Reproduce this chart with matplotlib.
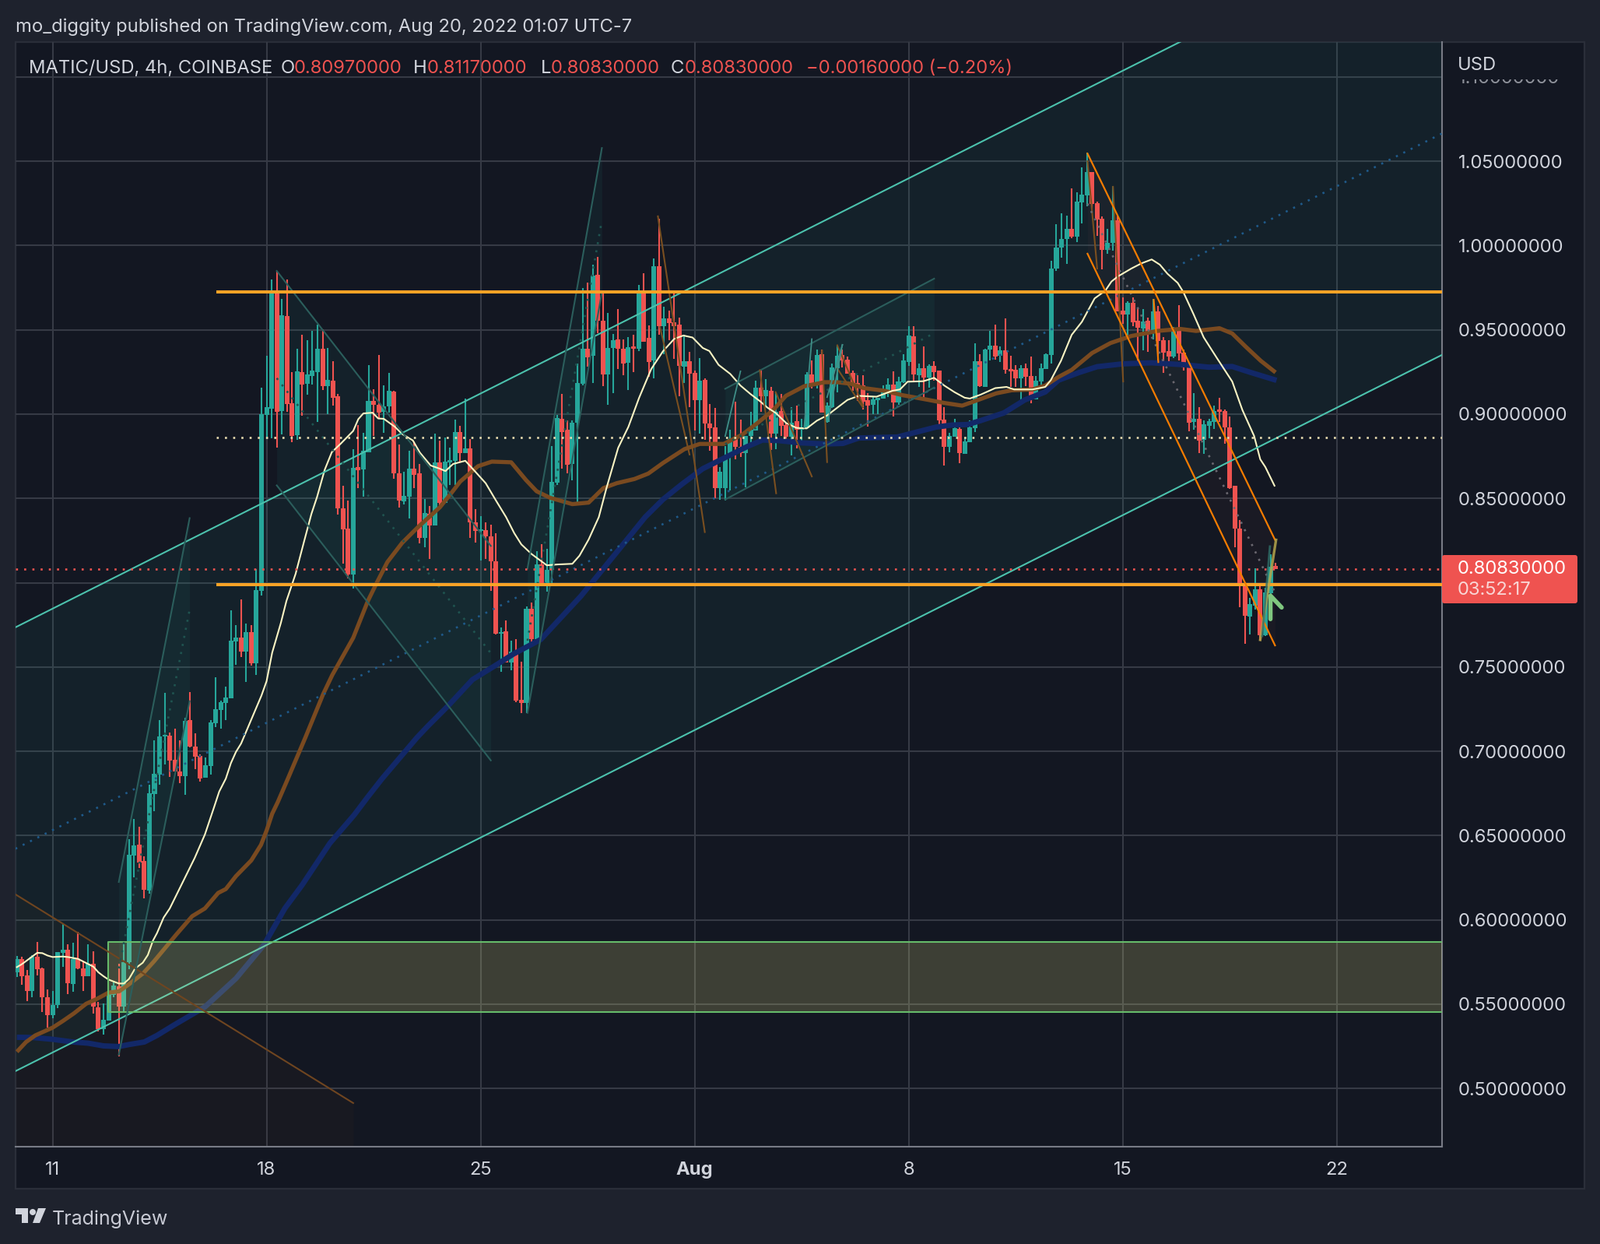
import numpy as np
import matplotlib
matplotlib.use('Agg')
import matplotlib.pyplot as plt
from matplotlib.patches import Rectangle, Polygon, FancyBboxPatch, Circle
from matplotlib.transforms import Bbox

W, H = 2056, 1598
BG = '#1e222d'
PANE = '#131722'
GRID = '#363a45'
TXT = '#d1d4dc'
UP = '#26a69a'
DOWN = '#ef5350'
plt.rcParams['font.family'] = 'Inter'

# 4h candles
opens = [.569,.5767,.567,.5578,.578,.5712,.554,.5435,.5495,.5805,
.5823,.562,.5767,.5712,.5666,.574,.548,.535,.5403,.5555,
.5606,.5486,.5749,.6381,.6445,.6348,.6173,.6746,.6861,.7087,
.7092,.6949,.688,.6852,.7184,.7027,.6972,.6843,.6912,.7166,
.7245,.7286,.7314,.7651,.7674,.7591,.7707,.7522,.795,.8994,
.9031,.9729,.9017,.9581,.9064,.8874,.9248,.9179,.9225,.9248,
.9387,.9165,.9198,.9105,.844,.832,.8047,.8685,.8671,.8773,
.9078,.9054,.9014,.9048,.9134,.8647,.8481,.8508,.8676,.8647,
.8265,.8408,.8341,.8714,.8471,.8712,.8723,.8895,.8767,.8796,
.836,.8305,.8313,.8275,.8128,.7697,.7711,.7526,.7591,.7306,
.7285,.7845,.7667,.8108,.7979,.8074,.8595,.8972,.8905,.8704,
.8947,.9178,.9388,.9344,.9826,.9554,.9233,.9392,.9444,.9388,
.9306,.9402,.9388,.9726,.9453,.9316,.9879,.9522,.9568,.9546,
.9531,.9282,.9315,.9243,.9081,.9203,.8946,.892,.8561,.8561,
.8746,.8854,.8807,.8769,.8869,.8904,.9158,.9108,.9139,.8884,
.902,.8934,.8865,.8957,.8908,.8916,.9234,.9182,.9354,.8952,
.9041,.9274,.935,.9323,.9243,.9177,.9172,.9082,.9054,.9082,
.9091,.9122,.9174,.9067,.919,.9308,.946,.9231,.9272,.9215,
.9285,.9257,.8966,.8807,.8865,.8911,.8765,.8835,.8916,.9313,
.9162,.9382,.9408,.9344,.9378,.9267,.9262,.9211,.927,.9227,
.9085,.9193,.9267,.935,.9863,.9986,1.0037,1.0099,1.0052,1.0255,
1.0299,1.0436,1.0251,1.0159,.9975,1.0014,1.0149,.9613,.959,.966,
.9552,.9509,.9552,.9483,.9609,.9436,.9373,.9339,.9493,.9362,
.9281,.8955,.897,.8847,.8932,.8955,.9024,.9017,.8921,.8573,
.8319,.7993,.78,.7866,.7962,.7689,.7939,.8097]

highs = [.5785,.578,.5703,.579,.5869,.5717,.5587,.558,.581,.598,
.5855,.5865,.593,.5754,.5855,.5814,.5513,.5504,.5564,.5638,
.574,.5874,.6478,.6598,.6552,.6376,.6801,.7064,.7184,.7346,
.711,.7134,.7064,.7198,.735,.7106,.6981,.6963,.7184,.7439,
.73,.7383,.7835,.7748,.79,.7757,.7748,.808,.9156,.9345,
.9798,.9849,.9683,.9798,.9248,.9387,.947,.9438,.9493,.953,
.9503,.9392,.9313,.9119,.8574,.8486,.8791,.8934,.8888,.929,
.9147,.935,.9172,.9245,.9138,.8819,.8657,.8781,.8838,.8702,
.8494,.8456,.8886,.8842,.8863,.88,.8966,.8928,.909,.8851,
.8437,.8395,.836,.8345,.8294,.7736,.7778,.7654,.7663,.753,
.7858,.7883,.8189,.8227,.8202,.881,.8997,.9119,.8962,.8962,
.93,.9749,.978,.9885,.9932,.973,.9598,.9474,.9621,.9444,
.9455,.9472,.9764,.9837,.9526,.9925,1.016,.9635,.9612,.9731,
.957,.9469,.937,.9258,.9331,.9211,.9058,.9038,.8684,.8808,
.8905,.9072,.8969,.8872,.9015,.92,.9262,.9208,.9159,.9131,
.9118,.8949,.9039,.9049,.8973,.9247,.9319,.9382,.9382,.9069,
.93,.9408,.9382,.9343,.9258,.9231,.9231,.9123,.9108,.9096,
.9169,.9212,.9254,.9221,.9354,.9519,.9519,.93,.94,.9293,
.9313,.9257,.904,.8888,.8974,.8923,.8862,.8962,.9419,.9354,
.9388,.9493,.9531,.9401,.9567,.9344,.929,.929,.9298,.9339,
.9228,.9298,.9359,.991,1.0125,1.0191,1.0176,1.034,1.0317,1.0463,
1.0551,1.0436,1.026,1.0171,1.0099,1.0351,1.0176,.9693,.9667,.9693,
.9632,.9621,.957,.9681,.964,.9455,.9439,.9516,.9647,.9385,
.9281,.9125,.904,.8963,.897,.905,.9097,.9029,.8986,.8573,
.8373,.7993,.7908,.8085,.7993,.797,.8167,.8117]

lows = [.566,.5615,.552,.554,.567,.5453,.536,.5416,.5477,.5721,
.556,.5574,.5708,.558,.5666,.5444,.5338,.532,.5403,.554,
.519,.5453,.5708,.6251,.6307,.6127,.6154,.6644,.68,.6921,
.6847,.688,.681,.6741,.7023,.6893,.682,.6843,.6861,.7143,
.7134,.7184,.7314,.7513,.7559,.7411,.7508,.7452,.7923,.8851,
.8856,.88,.8879,.9013,.8833,.8846,.899,.9115,.9175,.8953,
.9142,.9,.905,.8403,.8112,.8024,.7964,.856,.8509,.8773,
.887,.8971,.889,.901,.8618,.8447,.8466,.838,.8561,.8231,
.8208,.8141,.8341,.8447,.8471,.858,.858,.872,.8767,.8265,
.8236,.8131,.8141,.795,.7692,.7472,.7526,.7482,.7291,.7228,
.7228,.7625,.766,.7979,.7946,.7992,.858,.8676,.8647,.8609,
.8475,.9172,.9283,.9182,.9478,.9168,.9054,.9125,.9268,.923,
.9144,.9249,.9373,.943,.922,.921,.947,.9354,.944,.9326,
.9104,.9185,.904,.8904,.8884,.8846,.8781,.8499,.8492,.8487,
.8546,.873,.8746,.8566,.883,.8904,.9015,.9039,.8789,.8792,
.887,.8823,.8754,.8795,.882,.8916,.9152,.9152,.9008,.8951,
.9038,.9131,.9277,.9239,.9138,.9077,.9026,.8926,.9,.9,
.9091,.9101,.8984,.9055,.9185,.9285,.9193,.9162,.9097,.9157,
.92,.893,.8695,.8772,.8865,.8707,.8765,.8835,.8893,.9162,
.9162,.9316,.9321,.9308,.9239,.9162,.9162,.9065,.9165,.9065,
.9085,.9154,.9267,.93,.9847,.9929,.989,1.0045,1.0022,1.0132,
1.0233,1.0214,1.0055,.986,.9952,.997,.9609,.9536,.9444,.9521,
.9313,.9378,.937,.9444,.9308,.9244,.9301,.9332,.9316,.9258,
.8898,.8909,.877,.8763,.8855,.8914,.8955,.8824,.8555,.8208,
.7854,.7638,.7692,.7839,.7654,.7682,.79,.8083]

closes = [.577,.5666,.5578,.578,.5708,.554,.5435,.5495,.581,.5823,
.5624,.5767,.5712,.5666,.574,.5486,.535,.5407,.556,.561,
.5486,.5749,.6385,.6441,.6339,.6177,.675,.6866,.7087,.7097,
.6944,.688,.6852,.718,.7027,.6967,.6838,.6917,.717,.7249,
.729,.7318,.7656,.7674,.7591,.7707,.7522,.7955,.8999,.9041,
.9734,.9013,.9586,.9059,.887,.9253,.9175,.9235,.9258,.9387,
.9165,.9202,.9096,.844,.8315,.8047,.868,.8666,.8782,.9078,
.9054,.9008,.9046,.9138,.8647,.8485,.8513,.8676,.8641,.8265,
.8412,.8341,.8714,.8475,.8718,.8725,.8895,.8771,.8796,.836,
.8309,.8313,.8275,.8128,.7696,.7707,.7526,.7591,.73,.7285,
.7845,.7667,.8108,.7979,.8074,.8599,.8977,.8892,.87,.8949,
.9186,.9388,.9337,.9822,.9554,.9233,.9392,.9436,.9388,.93,
.9398,.9388,.9722,.943,.931,.9879,.9522,.9568,.9541,.9523,
.9285,.9315,.9238,.9081,.9197,.8946,.8915,.8561,.8656,.8749,
.8851,.8804,.8769,.8872,.8907,.9158,.9108,.9142,.8884,.9015,
.8931,.8865,.8951,.8908,.8919,.9234,.9182,.935,.9008,.9049,
.9277,.9344,.932,.9239,.9174,.9172,.9072,.9051,.9085,.9096,
.9127,.9174,.907,.9193,.9316,.9465,.9234,.9272,.9215,.9285,
.925,.8962,.8807,.8869,.8916,.8769,.8839,.892,.9313,.9165,
.9382,.9405,.9342,.9378,.9262,.9255,.9211,.927,.9223,.9085,
.9196,.927,.9354,.9863,.9986,1.0037,1.0099,1.0052,1.026,1.0302,
1.0436,1.0248,1.0155,.9975,1.0014,1.0149,.9609,.959,.966,.9544,
.9512,.9547,.9483,.9609,.9432,.9362,.9339,.9493,.9359,.9278,
.895,.897,.8843,.894,.8958,.902,.9015,.892,.8562,.8319,
.7985,.7805,.7872,.7962,.7689,.7942,.8093,.8083]

# moving averages, bar number and price
fast_x = [0,1,4,5,6,7,9,10,12,14,15,16,17,18,20,21,22,23.2,24.7,25.7,26.7,27.5,28.8,30,32.9,34.9,36.9,
38.7,39.7,41,42,43,44,46.6,48,49,50.1,51.8,52.9,54.7,56.3,57.8,58.9,60.4,61.8,63.5,66,67,68,69.8,70.9,
72,74.2,75.6,77.7,79.1,81.2,83,84.1,85.6,88,90,92,94,96,97.6,99,101,104,106,109,110.4,112.2,114.2,115.7,
118,120,122.1,124.5,126.8,129,130.8,132.6,134.6,135.9,137.7,140,142,144,145.8,147.3,148.9,151,153,155,157,
159,161,163,165.2,168.7,171.8,173.3,174.8,177.9,180,182,184,186,187,189.1,192,194.2,195.7,199.3,201.8,202.9,
204.9,207,209,211.5,213.6,214.8,216.1,218.7,220.7,222.7,224.3,225.8,227.8,228.9,230.9,232.9,235.5,238.5,240.5,
242.8,244,245,246.8]
fast_y = [.572,.5738,.5805,.5803,.5789,.578,.5783,.578,.5769,.5738,.5723,.5689,.5666,.5646,.5623,.5623,.565,.5712,.5746,.5792,.5877,.5922,.6014,.6068,.6245,.6368,.6507,
.6669,.6761,.6838,.693,.6997,.7046,.7231,.7331,.7416,.7585,.7761,.7892,.8053,.8238,.8408,.8508,.8669,.8774,.8823,.89,.897,.9004,.9008,.8974,
.8972,.8924,.8882,.8844,.8771,.8695,.8676,.8662,.8704,.8723,.8657,.859,.8488,.8389,.8294,.8227,.817,.8103,.8108,.8112,.816,.8256,.8389,.8561,
.88,.8924,.9096,.9268,.9373,.9446,.9466,.9454,.9392,.9374,.9292,.9238,.9169,.9118,.9077,.9038,.9007,.8946,.8918,.8915,.8961,
.8992,.9038,.9084,.9108,.9103,.9138,.9146,.9192,.9195,.9215,.9169,.913,.9097,.9092,.9115,.9154,.9161,.9146,.9146,.9161,.9201,
.9316,.947,.9547,.9686,.9732,.9786,.9817,.9863,.9894,.9917,.9886,.9832,.9778,.9724,.9593,.9455,.9332,.9193,.9024,
.887,.8732,.8686,.8575]

mid_x = [0,1.8,3.6,7,9,11.2,13.6,15.6,18,20.1,22.2,24.8,26.9,31.3,34.4,36.9,39.5,41,43,46,47.9,49,50.1,51.2,53.2,56.6,
60.1,61.9,66,68.9,70.6,72.7,75.6,78.8,83,85.3,87,90.5,93.2,97,99.9,102,104.6,109,112.2,115.1,117.7,121.2,123.9,126.8,
131,134,138.7,142.3,145.3,148.4,150.9,154.5,158.5,161,163.6,166.2,170.3,173.8,178.9,182,185.5,188,192.2,195.2,199.3,201.8,204.4,
207,211,214.6,218.7,223.8,228.3,231.4,236,238.5,241.1,244.1,247]
mid_y = [.5218,.5276,.5315,.5361,.54,.5446,.5503,.553,.5569,.5577,.5623,.5684,.5754,.5914,.6022,.6068,.616,.6183,.626,.6353,.6445,.653,.663,.6699,.6839,.7081,
.7339,.7453,.7673,.7893,.7998,.8122,.8236,.8332,.8447,.8533,.86,.8691,.8718,.8714,.8609,.8542,.8504,.8466,.8475,.8561,.859,.8615,.8647,.871,
.8792,.8823,.8823,.8877,.8946,.9023,.9108,.9165,.9189,.9189,.918,.9154,.9138,.9112,.9084,.9066,.905,.9077,.9123,.9141,.9146,.9169,.922,
.9262,.9362,.9421,.9463,.9493,.9505,.9493,.9509,.9478,.9401,.9316,.9247]

slow_x = [0,3,7,11,14,17,20,22,25,27.5,30.8,36.9,43,48.5,52.6,56,61.4,66.2,68.9,71.7,78.5,80.6,84.7,89.4,94,97.5,102.8,106.9,110.7,
115.1,119.2,123.3,126.8,130.5,134.6,138.2,143.3,146.3,149.4,153.5,158.5,162.1,165.2,172.8,176.4,180.4,183.5,186.6,189.1,193.7,197.8,201.8,
204.4,208.5,212,217.1,222.7,228.9,233.9,238.5,242.1,247.2]
slow_y = [.5304,.5303,.5292,.5276,.5269,.5253,.5249,.5261,.5276,.5315,.5376,.5484,.5653,.5853,.6069,.6208,.6454,.6623,.6731,.6839,.7081,.7148,.7272,.7425,.7511,.7578,.7663,.7797,.7921,
.8084,.8236,.8389,.8494,.8584,.8676,.873,.8807,.8846,.8843,.883,.8823,.8826,.8858,.8864,.8892,.8923,.8935,.8938,.8961,.9007,.9084,.9131,
.9201,.9247,.9281,.9298,.9304,.9293,.9278,.9282,.9247,.92]

# levels and drawings, bar number and price
price_ticks = [.50,.55,.60,.65,.70,.75,.80,.85,.90,.95,1.00,1.05,1.10]
date_ticks = [7,49,91,133,175,217,259]
date_labels = ['11','18','25','Aug','8','15','22']
res_high, res_low, mid_level = .9726, .7988, .8859
level_start = 39.1
last_price = .8083
zone_start, zone_top, zone_bot = 17.9, .5869, .5453
chan_x = [-.3, 279.6]
chan_up = [.7735, 1.1987]
chan_mid = [.6422, 1.0663]
chan_dn = [.5103, .9350]
fall_x = [210.1, 246.9]
fall_up = [1.0545, .8254]
fall_mid = [1.0248, .7941]
fall_dn = [.9951, .7628]
wedge_x = [-.26, 66]
wedge_y = [.6151, .4914]
flag_up = [[20,33.9],[.6225,.8383],[.52,.7297]]
flag_down = [[51,93],[.9849,.8218],[.8577,.6946]]
flag_up2 = [[100.2,114.8],[.8084,1.0578],[.7228,.9722]]
flag_side = [[139,180],[.915,.9803],[.8493,.9157]]
brown_segs = [([125.8,135],[1.0173,.83]),([126.2,132],[.9516,.876]),([145.8,149],[.926,.853]),
              ([148.9,156],[.913,.863]),([161,166],[.9408,.9054]),([158,159],[.9377,.8715]),
              ([161,166],[.927,.904]),([210.1,212],[1.05,.9863]),([215.1,217.1],[1.0348,.9193])]
teal_segs = [([139,142],[.8869,.9254]),([159,162],[.91,.9411]),([159.2,162],[.8962,.9411]),([154.5,156],[.892,.9445])]

BAR_W = 6.548
X0 = 21.7
FS = 17.1
DOTS = (0, (1, 3))

def xd(p):
    return (p - X0) / BAR_W
def yd(p):
    return 1.05 - (p - 207) * 0.05 / 108.3

fig = plt.figure(figsize=(W/100, H/100), dpi=100, facecolor=BG)

# layer for the pane and the frame, in pixels
back = fig.add_axes([0, 0, 1, 1], zorder=0)
back.set_xlim(0, W)
back.set_ylim(H, 0)
back.axis('off')
back.add_patch(Rectangle((20, 54), 2016, 1473, fc=PANE, ec='#2a2e39', lw=1.6))

L, R, T, B = 20, 1853, 54, 1473
ax = fig.add_axes([L/W, 1-B/H, (R-L)/W, (B-T)/H], zorder=1)
ax.patch.set_alpha(0)
ax.set_xlim(xd(L), xd(R))
ax.set_ylim(yd(B), yd(T))
for s in ['top', 'left']:
    ax.spines[s].set_visible(False)
ax.spines['bottom'].set_color('#787b86')
ax.spines['bottom'].set_linewidth(1.5)
ax.spines['right'].set_color('#787b86')
ax.spines['right'].set_linewidth(1.5)

# the 0.80 label sits under the last price tag, so it stays empty
ax.set_xticks(date_ticks, date_labels)
ax.set_yticks(price_ticks, ['' if p == .80 else '%.8f' % p for p in price_ticks])
ax.yaxis.tick_right()
ax.tick_params(axis='both', length=0, labelcolor=TXT, labelsize=FS)
ax.tick_params(axis='x', pad=14)
ax.tick_params(axis='y', pad=15)
ax.grid(True, color=GRID, lw=1.5, zorder=1)
ax.set_axisbelow(True)
for lab in ax.get_xticklabels():
    if lab.get_text() == 'Aug':
        lab.set_fontweight('bold')
for lab in ax.get_yticklabels():
    if lab.get_text().startswith('1.1'):
        lab.set_alpha(.65)
        lab.set_clip_box(Bbox([[1860, H-107], [2030, H-102]]))
        lab.set_clip_on(True)

# candles
idx = np.arange(len(opens))
o, h, l, c = map(np.array, (opens, highs, lows, closes))
cols = np.where(c >= o, UP, DOWN)
ax.vlines(idx, l, h, colors=cols, lw=1.5, zorder=3)
ax.bar(idx, np.maximum(np.abs(c-o), .0012), bottom=np.minimum(o, c), width=.92, color=cols, lw=0, zorder=3)

# moving averages
ax.plot(slow_x, slow_y, color='#122868', lw=5, solid_capstyle='butt', zorder=4)
ax.plot(mid_x, mid_y, color='#7a4a20', lw=3.8, solid_capstyle='butt', zorder=4)
ax.plot(fast_x, fast_y, color='#fbf5c4', lw=1.5, zorder=4)

# main channel
ax.fill_between(chan_x, chan_dn, chan_up, color='#26a69a', alpha=.075, lw=0, zorder=2)
ax.plot(chan_x, chan_up, color='#4cc2ad', lw=1.5, zorder=5)
ax.plot(chan_x, chan_dn, color='#4cc2ad', lw=1.5, zorder=5)
ax.plot(chan_x, chan_mid, color='#1f5a8a', lw=1.9, ls=DOTS, zorder=5)

# zone
ax.add_patch(Rectangle((zone_start, zone_bot), xd(R)-zone_start, zone_top-zone_bot, fc='#f4f08a', alpha=.19, lw=0, zorder=5))
ax.plot([xd(R), zone_start, zone_start, xd(R)], [zone_top, zone_top, zone_bot, zone_bot], color='#66bb6a', lw=1.5, zorder=5)

# falling wedge line bottom left
ax.fill_between(wedge_x, wedge_y, yd(B), color='#7a4a20', alpha=.05, lw=0, zorder=2)
ax.plot(wedge_x, wedge_y, color='#6f4520', lw=1.5, zorder=5)

# faded flags
for fx, fa, fb in [flag_up, flag_down, flag_up2, flag_side]:
    ax.fill_between(fx, fb, fa, color='#26a69a', alpha=.07, lw=0, zorder=2)
    ax.plot(fx, fa, color='#2b5e5c', lw=1.5, zorder=5)
    ax.plot(fx, fb, color='#2b5e5c', lw=1.5, zorder=5)
    ax.plot(fx, (np.array(fa)+np.array(fb))/2, color='#1f5450', lw=1.9, ls=DOTS, zorder=5)
for sx, sy in brown_segs:
    ax.plot(sx, sy, color='#7a4f20', lw=1.5, zorder=5)
for sx, sy in teal_segs:
    ax.plot(sx, sy, color='#3f8f88', lw=1.3, zorder=5)

# horizontal levels
ax.axhline(last_price, color=DOWN, lw=1.9, ls=DOTS, zorder=5)
ax.plot([level_start, xd(R)], [mid_level, mid_level], color='#e8dcb0', lw=1.9, ls=DOTS, zorder=5)
ax.plot([level_start, xd(R)], [res_high, res_high], color='#f9a326', lw=2.9, solid_capstyle='butt', zorder=6)
ax.plot([level_start, xd(R)], [res_low, res_low], color='#f9a326', lw=2.9, solid_capstyle='butt', zorder=6)

# falling orange channel
ax.fill_between(fall_x, fall_dn, fall_up, color='#e57373', alpha=.035, lw=0, zorder=2)
ax.plot(fall_x, fall_up, color='#f57c00', lw=1.6, zorder=6)
ax.plot(fall_x, fall_dn, color='#f57c00', lw=1.6, zorder=6)
ax.plot(fall_x, fall_mid, color='#6b6870', lw=1.9, ls=DOTS, zorder=5)
ax.plot([223.1, 224], [.9678, .9308], color='#f57c00', lw=1.5, zorder=6)

# last pencil strokes
ax.plot([247.1, 244], [.8254, .7661], color='#b5a64c', lw=2.4, alpha=.85, zorder=6)
ax.plot([245.9, 244.4], [.8215, .7684], color='#2f6f68', lw=2, alpha=.8, zorder=6)
ax.plot([246, 246, 248.2], [.7784, .7923, .7853], color='#7fc77f', lw=4, solid_capstyle='round', solid_joinstyle='round', zorder=6)

# layer for labels, in pixels
top = fig.add_axes([0, 0, 1, 1], zorder=2)
top.set_xlim(0, W)
top.set_ylim(H, 0)
top.axis('off')
top.patch.set_alpha(0)

top.text(20, 35, 'mo_diggity published on TradingView.com, Aug 20, 2022 01:07 UTC-7', color=TXT, fontsize=FS, va='center')
top.text(1873, 84, 'USD', color=TXT, fontsize=FS, va='center')
top.text(37, 88, 'MATIC/USD, 4h, COINBASE', color=TXT, fontsize=FS, va='center')
header = [(361, 'O', TXT), (378, '0.80970000', DOWN), (531, 'H', TXT), (549, '0.81170000', DOWN),
          (695, 'L', TXT), (708, '0.80830000', DOWN), (862, 'C', TXT), (880, '0.80830000', DOWN),
          (1036, '\u22120.00160000 (\u22120.20%)', DOWN)]
for hx, ht, hc in header:
    top.text(hx, 88, ht, color=hc, fontsize=FS, va='center')

# last price tag
top.add_patch(FancyBboxPatch((1853, 713), 174, 62, boxstyle='round,pad=0,rounding_size=3', fc=DOWN, lw=0))
top.text(1873, 731, '0.80830000', color='white', fontsize=FS, va='center')
top.text(1873, 758, '03:52:17', color='#f9d6d5', fontsize=FS, va='center')

# logo
top.add_patch(Polygon([(20, 1552), (36, 1552), (36, 1571), (28, 1571), (28, 1560), (20, 1560)], fc='#d1d4dc', lw=0))
top.add_patch(Circle((42, 1557), 4, fc='#d1d4dc', lw=0))
top.add_patch(Polygon([(49, 1552), (59, 1552), (51, 1571), (42, 1571)], fc='#d1d4dc', lw=0))
top.text(67, 1566, 'TradingView', color='#c8cad4', fontsize=18, va='center')

fig.savefig('out.png', dpi=100, facecolor=BG)
